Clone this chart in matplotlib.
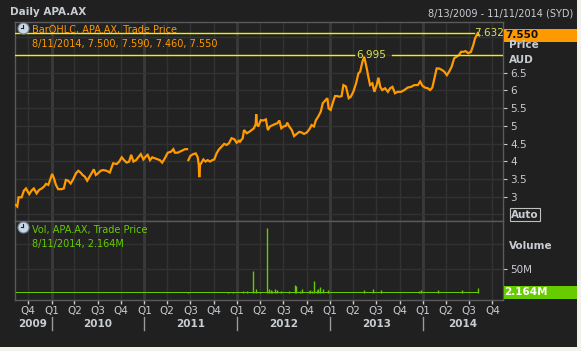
import numpy as np
import pandas as pd
import matplotlib
matplotlib.use("Agg")
import matplotlib.pyplot as plt
import matplotlib.dates as mdates
from matplotlib.lines import Line2D
from matplotlib.patches import Rectangle
import matplotlib.transforms as mtrans

# ---------------- data ----------------
price_dates = [
    "2009-08-13", "2009-08-19", "2009-08-24", "2009-09-05", "2009-09-14", "2009-09-22",
    "2009-10-05", "2009-10-14", "2009-10-23", "2009-11-03", "2009-11-13", "2009-11-23",
    "2009-12-02", "2009-12-10", "2009-12-19", "2009-12-25", "2010-01-03", "2010-01-10",
    "2010-01-18", "2010-01-27", "2010-02-09", "2010-02-18", "2010-02-26", "2010-03-07",
    "2010-03-17", "2010-03-27", "2010-04-07", "2010-04-16", "2010-04-25", "2010-05-03",
    "2010-05-12", "2010-05-21", "2010-06-01", "2010-06-09", "2010-06-16", "2010-06-24",
    "2010-07-03", "2010-07-13", "2010-07-23", "2010-08-05", "2010-08-18", "2010-08-31",
    "2010-09-14", "2010-09-24", "2010-10-04", "2010-10-13", "2010-10-23", "2010-11-02",
    "2010-11-10", "2010-11-19", "2010-11-29", "2010-12-08", "2010-12-18", "2010-12-28",
    "2011-01-06", "2011-01-14", "2011-01-23", "2011-02-01", "2011-02-12", "2011-02-22",
    "2011-03-03", "2011-03-12", "2011-03-20", "2011-03-26", "2011-04-03", "2011-04-16",
    "2011-04-25", "2011-05-01", "2011-05-12", "2011-05-21", "2011-05-30", "2011-06-10",
    "2011-06-18", "2011-06-20", "2011-06-23", "2011-07-01", "2011-07-12", "2011-07-22",
    "2011-07-30", "2011-08-03", "2011-08-05", "2011-08-08", "2011-08-12", "2011-08-21",
    "2011-08-30", "2011-09-07", "2011-09-16", "2011-09-25", "2011-10-03", "2011-10-12",
    "2011-10-22", "2011-11-01", "2011-11-11", "2011-11-21", "2011-11-30", "2011-12-10",
    "2011-12-21", "2011-12-30", "2012-01-08", "2012-01-12", "2012-01-23", "2012-01-28",
    "2012-02-08", "2012-02-18", "2012-02-27", "2012-03-07", "2012-03-14", "2012-03-16",
    "2012-03-19", "2012-03-24", "2012-04-03", "2012-04-13", "2012-04-23", "2012-05-01",
    "2012-05-09", "2012-05-20", "2012-05-29", "2012-06-07", "2012-06-15", "2012-06-23",
    "2012-07-01", "2012-07-11", "2012-07-16", "2012-07-24", "2012-08-03", "2012-08-12",
    "2012-08-22", "2012-09-02", "2012-09-11", "2012-09-20", "2012-10-01", "2012-10-11",
    "2012-10-20", "2012-10-29", "2012-11-06", "2012-11-15", "2012-11-25", "2012-12-03",
    "2012-12-12", "2012-12-21", "2012-12-26", "2013-01-03", "2013-01-11", "2013-01-20",
    "2013-01-29", "2013-02-06", "2013-02-15", "2013-02-22", "2013-03-04", "2013-03-09",
    "2013-03-15", "2013-03-23", "2013-04-02", "2013-04-13", "2013-04-22", "2013-04-29",
    "2013-05-08", "2013-05-15", "2013-05-25", "2013-05-31", "2013-06-07", "2013-06-16",
    "2013-06-24", "2013-07-03", "2013-07-10", "2013-07-17", "2013-07-25", "2013-08-05",
    "2013-08-16", "2013-08-25", "2013-09-03", "2013-09-13", "2013-09-24", "2013-10-07",
    "2013-10-20", "2013-11-02", "2013-11-15", "2013-11-28", "2013-12-12", "2013-12-21",
    "2013-12-30", "2014-01-09", "2014-01-20", "2014-01-29", "2014-02-07", "2014-02-15",
    "2014-02-24", "2014-03-05", "2014-03-16", "2014-03-26", "2014-04-05", "2014-04-14",
    "2014-04-24", "2014-05-04", "2014-05-13", "2014-05-23", "2014-05-31", "2014-06-09",
    "2014-06-18", "2014-06-28", "2014-07-09", "2014-07-18", "2014-07-25", "2014-08-04",
    "2014-08-11",
]
price_close = [
    2.76, 2.72, 2.98, 2.98, 3.17, 3.23,
    3.07, 3.17, 3.23, 3.09, 3.19, 3.23,
    3.28, 3.36, 3.33, 3.45, 3.64, 3.52,
    3.33, 3.21, 3.21, 3.23, 3.47, 3.45,
    3.37, 3.49, 3.66, 3.73, 3.68, 3.61,
    3.56, 3.45, 3.58, 3.68, 3.77, 3.61,
    3.66, 3.73, 3.75, 3.73, 3.68, 3.94,
    3.92, 3.99, 4.11, 4.03, 3.96, 3.99,
    4.18, 3.99, 4.03, 4.11, 4.20, 4.05,
    4.13, 4.18, 4.03, 4.11, 4.08, 4.05,
    4.03, 3.96, 4.05, 4.13, 4.24, 4.27,
    4.34, 4.24, 4.24, 4.27, 4.30, 4.34,
    4.34, np.nan, 4.03, 4.15, 4.20, 4.22,
    4.11, 3.89, 3.55, 3.90, 3.94, 4.05,
    3.99, 4.03, 3.99, 4.03, 4.05, 4.22,
    4.34, 4.41, 4.49, 4.46, 4.51, 4.65,
    4.62, 4.52, 4.58, 4.55, 4.65, 4.88,
    4.79, 4.83, 4.88, 4.93, 5.05, 5.33,
    5.05, 4.98, 5.16, 5.15, 5.18, 4.88,
    4.98, 5.02, 5.05, 5.07, 5.15, 4.93,
    4.98, 5.00, 5.09, 4.98, 4.88, 4.71,
    4.77, 4.83, 4.81, 4.77, 4.81, 4.90,
    5.02, 4.98, 5.16, 5.26, 5.40, 5.64,
    5.71, 5.78, 5.49, 5.45, 5.64, 5.84,
    5.84, 5.82, 5.84, 6.15, 6.11, 5.96,
    5.78, 5.82, 5.96, 6.20, 6.48, 6.53,
    6.81, 6.95, 6.62, 6.39, 6.15, 6.20,
    5.96, 6.15, 6.36, 6.10, 6.01, 6.06,
    5.96, 6.06, 6.10, 5.92, 5.96, 5.96,
    6.01, 6.08, 6.10, 6.15, 6.15, 6.25,
    6.13, 6.08, 6.06, 6.01, 6.08, 6.34,
    6.62, 6.62, 6.58, 6.53, 6.43, 6.53,
    6.67, 6.91, 6.95, 7.00, 7.09, 7.09,
    7.11, 7.05, 7.09, 7.28, 7.47, 7.61,
    7.55,
]

vol_base_level = 2.5   # millions, typical daily volume
vol_spike_dates = [
    "2011-06-23", "2011-11-27", "2011-12-14", "2012-01-25", "2012-02-10",
    "2012-03-02", "2012-03-17", "2012-04-01", "2012-04-29", "2012-05-07",
    "2012-05-12", "2012-05-17", "2012-05-30", "2012-06-07", "2012-06-22",
    "2012-07-22", "2012-08-17", "2012-08-21", "2012-09-04", "2012-09-13",
    "2012-10-09", "2012-10-15", "2012-10-23", "2012-10-31", "2012-11-09",
    "2012-11-15", "2012-11-23", "2012-12-05", "2012-12-22", "2013-05-15",
    "2013-06-20", "2013-07-20", "2013-12-15", "2013-12-23", "2014-03-03",
    "2014-06-05", "2014-08-07",
]
vol_spike_values = [
    3.5, 3.5, 3.5, 4.0, 4.0,
    46, 9, 3.5, 134, 8,
    6, 5, 9, 6, 4,
    5, 17, 15, 5, 9,
    5, 7, 5, 26, 6,
    9, 13, 9, 6, 6,
    9, 6, 5, 7, 6,
    6, 11,
]

price_ticks = [3, 3.5, 4, 4.5, 5, 5.5, 6, 6.5]
price_grid = [2.5, 3, 3.5, 4, 4.5, 5, 5.5, 6, 6.5, 7, 7.5]
quarter_dates = ["2009-10-01", "2010-01-01", "2010-04-01", "2010-07-01", "2010-10-01",
                 "2011-01-01", "2011-04-01", "2011-07-01", "2011-10-01",
                 "2012-01-01", "2012-04-01", "2012-07-01", "2012-10-01",
                 "2013-01-01", "2013-04-01", "2013-07-01", "2013-10-01",
                 "2014-01-01", "2014-04-01", "2014-07-01", "2014-10-01"]
quarter_labels = ["Q4", "Q1", "Q2", "Q3", "Q4", "Q1", "Q2", "Q3", "Q4",
                  "Q1", "Q2", "Q3", "Q4", "Q1", "Q2", "Q3", "Q4",
                  "Q1", "Q2", "Q3", "Q4"]
year_labels = ["2009", "2010", "2011", "2012", "2013", "2014"]
year_starts = ["2010-01-01", "2011-01-01", "2012-01-01", "2013-01-01", "2014-01-01"]

max_high = 7.632
prev_high = 6.995
prev_high_date = "2013-05-20"
last_close = 7.550
last_volume = "2.164M"
range_start, range_end = "2009-08-08", "2014-11-12"

# ---------------- styling ----------------
W, H = 581, 351
BG = "#222222"
FRAME = "#202020"
GRID = "#323232"
GRID_YEAR = "#3a3a3a"
BORDER = "#5a5a5a"
TXT = "#c9cdd2"
ORANGE = "#ff9a00"
GREEN = "#66cc00"
YELLOW = "#f2f200"
YTXT = "#dde455"

plt.rcParams['font.family'] = ['DejaVu Sans']

fig = plt.figure(figsize=(W / 100, H / 100), dpi=100)
fig.patch.set_facecolor("#f2f2ee")
fig.add_artist(Rectangle((0, 1 - 347 / H), 577 / W, 347 / H, transform=fig.transFigure,
                         facecolor=FRAME, edgecolor="none", zorder=-5))


def fx(x):
    return x / W


def fy(y):
    return 1 - y / H


L, R = 14.5, 503
P_TOP, P_BOT = 22, 221
V_TOP, V_BOT = 221, 300

ax = fig.add_axes([fx(L), fy(P_BOT), (R - L) / W, (P_BOT - P_TOP) / H])
axv = fig.add_axes([fx(L), fy(V_BOT), (R - L) / W, (V_BOT - V_TOP) / H], sharex=ax)

dates = pd.to_datetime(price_dates)
x0, x1 = pd.Timestamp(range_start), pd.Timestamp(range_end)
qd = pd.to_datetime(quarter_dates)
yd = pd.to_datetime(year_starts)

for a in (ax, axv):
    a.set_facecolor(BG)
    for s in a.spines.values():
        s.set_color(BORDER)
        s.set_linewidth(1)
    a.set_xlim(x0, x1)
    for d in qd:
        a.axvline(d, color=GRID, lw=1, zorder=0)
    for d in yd:
        a.axvline(d, color=GRID_YEAR, lw=2, zorder=0)

# price panel
ax.set_ylim(2.311, 7.932)
for g in price_grid:
    ax.axhline(g, color=GRID, lw=1, zorder=0)
ax.plot(dates, price_close, color=ORANGE, lw=1.6, solid_joinstyle="miter", zorder=3)

ax.yaxis.tick_right()
ax.set_yticks(price_ticks)
ax.set_yticklabels([("%g" % t) for t in price_ticks])
ax.tick_params(axis="y", colors=TXT, labelsize=7.5, length=3, pad=2, direction="out")
ax.tick_params(axis="x", bottom=False, labelbottom=False)

# high lines
ax.plot([x0, pd.Timestamp("2014-07-21")], [max_high, max_high], color=YELLOW, lw=1, zorder=4)
ax.text(pd.Timestamp("2014-07-23"), max_high, "%.3f" % max_high, color=YTXT, fontsize=7.5,
        va="center", ha="left", zorder=5)
ph = pd.Timestamp(prev_high_date)
ax.plot([x0, ph - pd.Timedelta(days=46)], [prev_high, prev_high], color=YELLOW, lw=1, zorder=4)
ax.plot([ph + pd.Timedelta(days=104), x1], [prev_high, prev_high], color=YELLOW, lw=1, zorder=4)
ax.text(ph + pd.Timedelta(days=24), prev_high, "%.3f" % prev_high, color=YTXT, fontsize=7.5,
        va="center", ha="center", zorder=5)

# volume panel
axv.set_ylim(-13.7, 147.6)
for g in [50, 100]:
    axv.axhline(g, color=GRID, lw=1, zorder=0)
axv.fill_between([dates[0], dates[-1]], 0, vol_base_level, color=GREEN, lw=0, zorder=3)
axv.vlines(pd.to_datetime(vol_spike_dates), 0, vol_spike_values, color=GREEN, lw=1, zorder=3)
axv.yaxis.tick_right()
axv.set_yticks([50])
axv.set_yticklabels(["50M"])
axv.tick_params(axis="y", colors=TXT, labelsize=7.5, length=3, pad=2)
axv.set_xticks(qd)
axv.set_xticklabels(quarter_labels)
axv.tick_params(axis="x", colors=TXT, labelsize=7.5, length=3, pad=1.5, width=1)

# year labels and separators
trans = mtrans.blended_transform_factory(axv.transData, axv.transAxes)
ya = lambda ypx: (V_BOT - ypx) / (V_BOT - V_TOP)
for d in yd:
    axv.plot([d, d], [ya(317), ya(330)], color="#9a9a9a", lw=1, transform=trans, clip_on=False)
bounds = [x0] + list(yd) + [x1]
for i, lab in enumerate(year_labels):
    c = bounds[i] + (bounds[i + 1] - bounds[i]) / 2
    axv.text(c, ya(324), lab, transform=trans, color=TXT, fontsize=7.5, fontweight="bold",
             ha="center", va="center", clip_on=False)

# header texts
fig.text(fx(10), fy(12), "Daily APA.AX", color=TXT, fontsize=7.5, fontweight="bold",
         va="center", ha="left")
fig.text(fx(573), fy(13), "8/13/2009 - 11/11/2014 (SYD)", color=TXT, fontsize=7,
         va="center", ha="right")

# legends
fig.text(fx(31.5), fy(30), "BarOHLC, APA.AX, Trade Price", color=ORANGE, fontsize=7,
         va="center", ha="left")
fig.text(fx(31.5), fy(44), "8/11/2014, 7.500, 7.590, 7.460, 7.550", color=ORANGE, fontsize=7,
         va="center", ha="left")
fig.text(fx(31.5), fy(229.5), "Vol, APA.AX, Trade Price", color=GREEN, fontsize=7,
         va="center", ha="left")
fig.text(fx(31.5), fy(243.5), "8/11/2014, " + last_volume, color=GREEN, fontsize=7,
         va="center", ha="left")

# clock icons
for cy in (27.5, 226.5):
    fig.add_artist(Line2D([fx(23)], [fy(cy)], marker="o", markersize=8, color="#c9d6e6",
                          markeredgecolor="#6f7f90", markeredgewidth=0.8))
    fig.add_artist(Line2D([fx(23), fx(23)], [fy(cy), fy(cy - 3)], color="#222222", lw=0.8))
    fig.add_artist(Line2D([fx(23), fx(20.5)], [fy(cy), fy(cy)], color="#222222", lw=0.8))

# right axis labels and boxes
fig.add_artist(Rectangle((fx(503.5), fy(41.7)), (577 - 503.5) / W, 12.4 / H,
                         transform=fig.transFigure, facecolor="#ff9900", edgecolor="none"))
fig.text(fx(505), fy(35.5), "%.3f" % last_close, color="#111111", fontsize=7.5,
         fontweight="bold", va="center", ha="left")
fig.text(fx(509), fy(45.5), "Price", color=TXT, fontsize=7.5, fontweight="bold",
         va="center", ha="left")
fig.text(fx(509), fy(60), "AUD", color=TXT, fontsize=7.5, fontweight="bold",
         va="center", ha="left")
fig.text(fx(511), fy(214.5), "Auto", color=TXT, fontsize=7.5, fontweight="bold",
         va="center", ha="left",
         bbox=dict(boxstyle="square,pad=0.1", facecolor=FRAME, edgecolor="#bfbfbf", lw=0.8))
fig.text(fx(509), fy(246), "Volume", color=TXT, fontsize=7.5, fontweight="bold",
         va="center", ha="left")
fig.add_artist(Rectangle((fx(503.5), fy(298.7)), (577 - 503.5) / W, 12.7 / H,
                         transform=fig.transFigure, facecolor=GREEN, edgecolor="none"))
fig.text(fx(504), fy(292.3), last_volume, color="white", fontsize=7.5,
         fontweight="bold", va="center", ha="left")

fig.savefig("out.png", dpi=100, facecolor=fig.get_facecolor())
